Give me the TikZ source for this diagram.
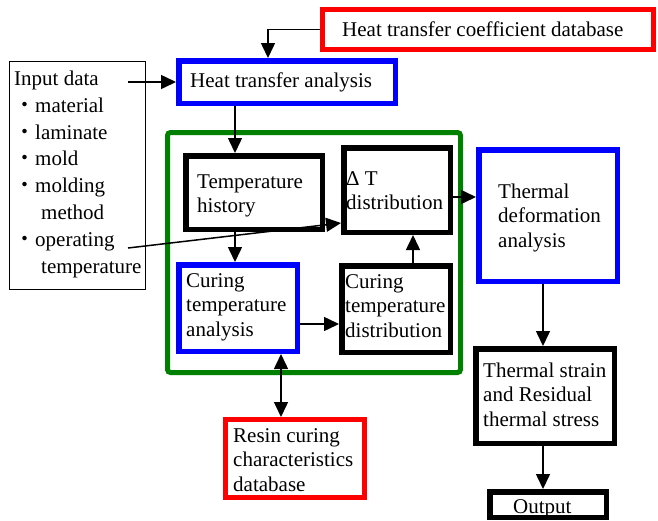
\documentclass[tikz,border=0pt]{standalone}
\usepackage{fontspec}
\setmainfont{Liberation Serif}
\newfontfamily\cjkfont{Noto Sans CJK JP}
\usetikzlibrary{arrows.meta}
\newcommand{\mlines}[1]{\begin{tabular}[t]{@{}l@{}}#1\end{tabular}}
\definecolor{myblue}{RGB}{0,0,255}
\definecolor{myred}{RGB}{255,0,0}
\definecolor{mygreen}{RGB}{0,128,0}
\begin{document}
\begin{tikzpicture}[x=1pt,y=-1pt,
 blkbox/.style={draw=black, line width=5.5pt, inner sep=0pt},
 bluebox/.style={draw=myblue, line width=5.5pt, inner sep=0pt},
 redbox/.style={draw=myred, line width=5pt, inner sep=0pt},
 txt/.style={anchor=base west, inner sep=0pt, font=\fontsize{21}{24.5}\selectfont},
 arr/.style={line width=1.5pt, -{Triangle[length=15pt,width=14pt]}},
 darr/.style={line width=1.5pt, {Triangle[length=15pt,width=14pt]}-{Triangle[length=15pt,width=14pt]}}
]
\useasboundingbox (0,0) rectangle (658,520);
\fill[white] (0,0) rectangle (658,520);

% boxes
\node[redbox, minimum width=331pt, minimum height=40pt] (htcdb) at (488,29.5) {};
\node[bluebox, minimum width=216.5pt, minimum height=42.5pt] (hta) at (287,82) {};
\node[draw=black, line width=1.3pt, inner sep=0pt, minimum width=135.7pt, minimum height=227.7pt] (input) at (77.5,175.5) {};
\node[draw=mygreen, line width=5pt, rounded corners=3pt, inner sep=0pt, minimum width=293pt, minimum height=240pt] (green) at (314,252.5) {};
\node[blkbox, minimum width=136.5pt, minimum height=73.5pt] (temphist) at (254,192.5) {};
\node[blkbox, minimum width=106.5pt, minimum height=84.5pt] (dT) at (397,190) {};
\node[bluebox, minimum width=118.5pt, minimum height=86.5pt] (cta) at (238,308) {};
\node[blkbox, minimum width=108.5pt, minimum height=86.5pt] (ctd) at (396,309) {};
\node[bluebox, minimum width=138.5pt, minimum height=131.5pt] (tda) at (548,215.5) {};
\node[blkbox, minimum width=138.5pt, minimum height=94.5pt] (tss) at (545,396) {};
\node[blkbox, minimum width=116.5pt, minimum height=25.5pt] (output) at (548,504.5) {};
\node[redbox, minimum width=139pt, minimum height=78pt] (resin) at (295,458.5) {};

% texts
\node[txt] (t-htcdb) at (342,36) {Heat transfer coefficient database};
\node[txt] (t-hta) at (190,87) {Heat transfer analysis};
\node[txt, font=\fontsize{21}{26.8}\selectfont] (t-input) at (14,85.5) {\mlines{Input data\\
{\cjkfont ・}material\\
{\cjkfont ・}laminate\\
{\cjkfont ・}mold\\
{\cjkfont ・}molding\\
\hspace*{27pt}method\\
{\cjkfont ・}operating\\
\hspace*{27pt}temperature}};
\node[txt] (t-temphist) at (197,188) {\mlines{Temperature\\history}};
\node[txt] (t-dT) at (346,185) {\mlines{Δ T\\distribution}};
\node[txt] (t-cta) at (186,287) {\mlines{Curing\\temperature\\analysis}};
\node[txt] (t-ctd) at (345,288) {\mlines{Curing\\temperature\\distribution}};
\node[txt] (t-tda) at (498,198) {\mlines{Thermal\\deformation\\analysis}};
\node[txt] (t-tss) at (483,377) {\mlines{Thermal strain\\and Residual\\thermal stress}};
\node[txt] (t-output) at (513,513) {Output};
\node[txt] (t-resin) at (233,442) {\mlines{Resin curing\\characteristics\\database}};

% helper coordinates
\coordinate (in1) at (128,82);
\coordinate (in2) at (128,248);
\coordinate (xa) at (268,0);
\coordinate (xb) at (235,0);
\coordinate (xc) at (413,0);
\coordinate (xd) at (281,0);
\coordinate (xe) at (543,0);
\coordinate (ya) at (0,324);
\coordinate (yb) at (0,197);
\coordinate (yc) at (0,223);

% connectors
\draw[arr] (htcdb.west) -| (hta.north -| xa);
\draw[arr] (in1) -- (hta.west);
\draw[arr] (hta.south -| xb) -- (temphist.north -| xb);
\draw[arr] (temphist.south -| xb) -- (cta.north -| xb);
\draw[arr] (cta.east |- ya) -- (ctd.west |- ya);
\draw[arr] (ctd.north -| xc) -- (dT.south -| xc);
\draw[arr] (dT.east |- yb) -- (tda.west |- yb);
\draw[arr] (in2) -- (dT.west |- yc);
\draw[darr] (cta.south -| xd) -- (resin.north -| xd);
\draw[arr] (tda.south -| xe) -- (tss.north -| xe);
\draw[arr] (tss.south -| xe) -- (output.north -| xe);
\end{tikzpicture}
\end{document}
